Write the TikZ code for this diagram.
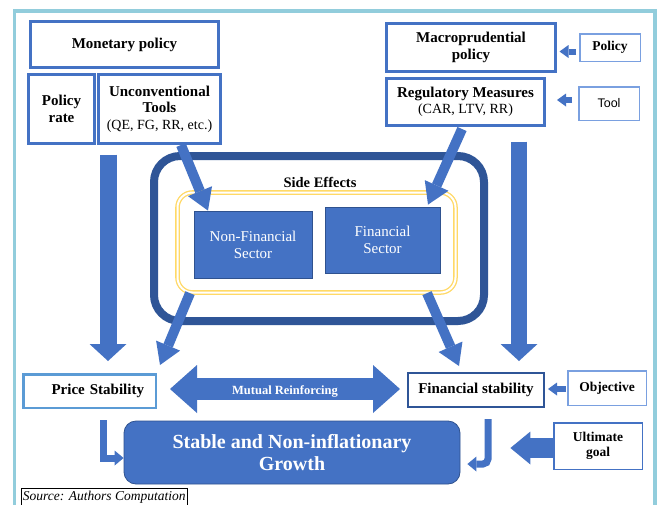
\documentclass[tikz,border=0pt]{standalone}
\usepackage{fontspec}
\setmainfont{Liberation Serif}
\newfontfamily\toolfont{Liberation Sans}
\usetikzlibrary{arrows.meta}
\definecolor{mainblue}{HTML}{4472C4}
\definecolor{deepblue}{HTML}{2F5597}
\definecolor{edgeblue}{HTML}{2F528F}
\definecolor{softblue}{HTML}{5B9BD5}
\definecolor{paleblue}{HTML}{7AA0E0}
\definecolor{framecyan}{HTML}{92CDDC}
\definecolor{goldline}{HTML}{FFD966}
\newcommand\fsz[2]{\fontsize{#1}{#2}\selectfont}

\begin{document}
\begin{tikzpicture}[x=1pt,y=-1pt,
  outline/.style={draw=mainblue, line width=3pt, fill=white, inner sep=0pt,
                  align=center, font=\fsz{15}{16.5}\bfseries},
  sidebox/.style={draw=#1, line width=1.5pt, fill=white, inner sep=0pt,
                  align=center, font=\fsz{13.5}{15}\bfseries},
  sector/.style={fill=mainblue, draw=edgeblue, line width=0.8pt, text=white,
                 inner sep=0pt, align=center, font=\fsz{15}{17}},
  blockarrow/.style={draw=mainblue, line width=#1},
  vhead/.tip={Triangle[width=37pt,length=17pt,line width=0pt]},
  dhead/.tip={Triangle[width=26pt,length=21pt,line width=0pt]},
  shead/.tip={Triangle[width=13pt,length=9pt,line width=0pt]},
  mhead/.tip={Triangle[width=48pt,length=27pt,line width=0pt]},
  ghead/.tip={Triangle[width=33pt,length=20pt,line width=0pt]},
  bhead/.tip={Triangle[width=15pt,length=9pt,line width=0pt]},
]
\clip (0,0) rectangle (659,504);
\fill[white] (0,0) rectangle (659,504);

% outer frame, open at the bottom
\draw[framecyan, line width=3.5pt] (14.5,515) -- (14.5,11) -- (655,11) -- (655,515);

% monetary policy side
\node[outline, minimum width=188pt, minimum height=46pt] (mp) at (124.5,44.5) {Monetary policy};
\node[outline, minimum width=66pt, minimum height=69pt] (pr) at (61.5,109) {Policy\\rate};
\node[outline, minimum width=122pt, minimum height=69pt] (uc) at (159.5,109)
  {Unconventional\\Tools\\{\mdseries\fsz{14}{16.5}(QE, FG, RR, etc.)}};

% macroprudential side
\node[outline, minimum width=169pt, minimum height=48pt] (mac) at (471,47.5) {Macroprudential\\policy};
\node[outline, minimum width=158pt, minimum height=47pt] (rm) at (465.5,102)
  {Regulatory Measures\\{\mdseries\fsz{14}{16.5}(CAR, LTV, RR)}};
\node[sidebox=paleblue, minimum width=60.5pt, minimum height=27.5pt] (pol) at (610,47.5) {Policy};
\node[sidebox=paleblue, minimum width=60.5pt, minimum height=33.5pt, font=\toolfont\fsz{12.5}{14}] (tl) at (609,103.5) {Tool};

% side effects frame
\node[draw=deepblue, line width=8pt, rounded corners=26pt, minimum width=330pt,
      minimum height=165pt, inner sep=0pt] (side) at (319,238.5) {};
\node[font=\fsz{14.5}{16}\bfseries, inner sep=0pt] (se) at (320,182) {Side Effects};
\node[draw=goldline, double=white, double distance=2pt, line width=1.3pt,
      rounded corners=15pt, minimum width=278pt, minimum height=100pt, inner sep=0pt] (yel) at (316.5,242.5) {};
\node[sector, minimum width=118pt, minimum height=67pt] (nf) at (253,244.5) {Non-Financial\\Sector};
\node[sector, minimum width=115pt, minimum height=66pt] (fs) at (382.5,240) {Financial\\Sector};

% objectives
\node[draw=softblue, line width=2.5pt, fill=white, inner sep=0pt, minimum width=132.5pt,
      minimum height=33.5pt, text width=109pt, align=right, font=\fsz{15}{16.5}\bfseries]
      (ps) at (89.5,391) {Price Stability};
\node[draw=deepblue, line width=2pt, fill=white, inner sep=0pt, minimum width=136pt,
      minimum height=34pt, font=\fsz{15}{16.5}\bfseries] (fst) at (476,390) {Financial stability};
\node[sidebox=paleblue, minimum width=78.5pt, minimum height=34.5pt] (obj) at (607,388) {Objective};
\node[sidebox=mainblue, minimum width=88.5pt, minimum height=46.5pt] (ug) at (598,446) {Ultimate\\goal};
\node[fill=mainblue, draw=edgeblue, line width=0.8pt, rounded corners=12pt, minimum width=336pt,
      minimum height=63pt, inner sep=0pt, text=white, align=center, font=\fsz{20}{22}\bfseries]
      (gr) at (292,452.5) {Stable and Non-inflationary\\Growth};

% source note
\node[draw=black, line width=0.8pt, anchor=north west, inner xsep=2pt, inner ysep=0pt,
      minimum height=18pt, font=\fsz{13.5}{15}\itshape] (src) at (20.5,487.5) {Source: Authors Computation};

% transmission arrows
\draw[blockarrow=17pt, -{vhead}] ([xshift=-51.5pt,yshift=-9.5pt]uc.south) -- ([xshift=18.5pt,yshift=12pt]ps.north);
\draw[blockarrow=16pt, -{vhead}] ([xshift=53.5pt,yshift=-14.5pt]rm.south) -- ([xshift=43pt,yshift=11pt]fst.north);
\draw[blockarrow=10pt, -{dhead}] ([xshift=21.5pt]uc.south) -- ([xshift=-45pt]nf.north);
\draw[blockarrow=10pt, -{dhead}] ([xshift=-3.5pt,yshift=-2pt]rm.south) -- ([xshift=45.5pt,yshift=2pt]fs.north);
\draw[blockarrow=10pt, -{dhead}] ([xshift=-126.5pt]yel.south) -- ([xshift=70.5pt,yshift=8pt]ps.north);
\draw[blockarrow=10pt, -{dhead}] ([xshift=110.5pt]yel.south) -- ([xshift=-17pt,yshift=6pt]fst.north);

% mutual reinforcement
\coordinate (mrl) at (170,389);
\coordinate (mrr) at (400,389);
\draw[blockarrow=22pt, {mhead}-{mhead}] (mrl) -- (mrr)
  node[midway, yshift=-2pt, text=white, font=\fsz{12.5}{14}\bfseries] {Mutual Reinforcing};

% pointer arrows from the side labels
\draw[blockarrow=6pt, -{shead}] ([xshift=-3pt,yshift=-4pt]pol.west) -- ([xshift=2.5pt,yshift=-4pt]mac.east);
\draw[blockarrow=6pt, -{shead}] ([xshift=-6pt,yshift=3.5pt]tl.west) -- ([xshift=11pt,yshift=2pt]rm.east);
\draw[blockarrow=6pt, -{shead}] ([xshift=-1pt,yshift=-1pt]obj.west) -- ([xshift=3pt,yshift=1pt]fst.east);
\draw[blockarrow=20pt, -{ghead}] ([yshift=-2pt]ug.west) -- ([xshift=50pt,yshift=4.5pt]gr.east);

% both stabilities feed growth
\draw[blockarrow=7pt, -{bhead}] ([xshift=13.5pt,yshift=-11pt]ps.south) |- ([yshift=-5.5pt]gr.west);
\draw[blockarrow=7pt, rounded corners=5pt, -{bhead}] ([xshift=12pt,yshift=-11pt]fst.south) |- ([xshift=7pt,yshift=-11.5pt]gr.east);
\end{tikzpicture}
\end{document}
